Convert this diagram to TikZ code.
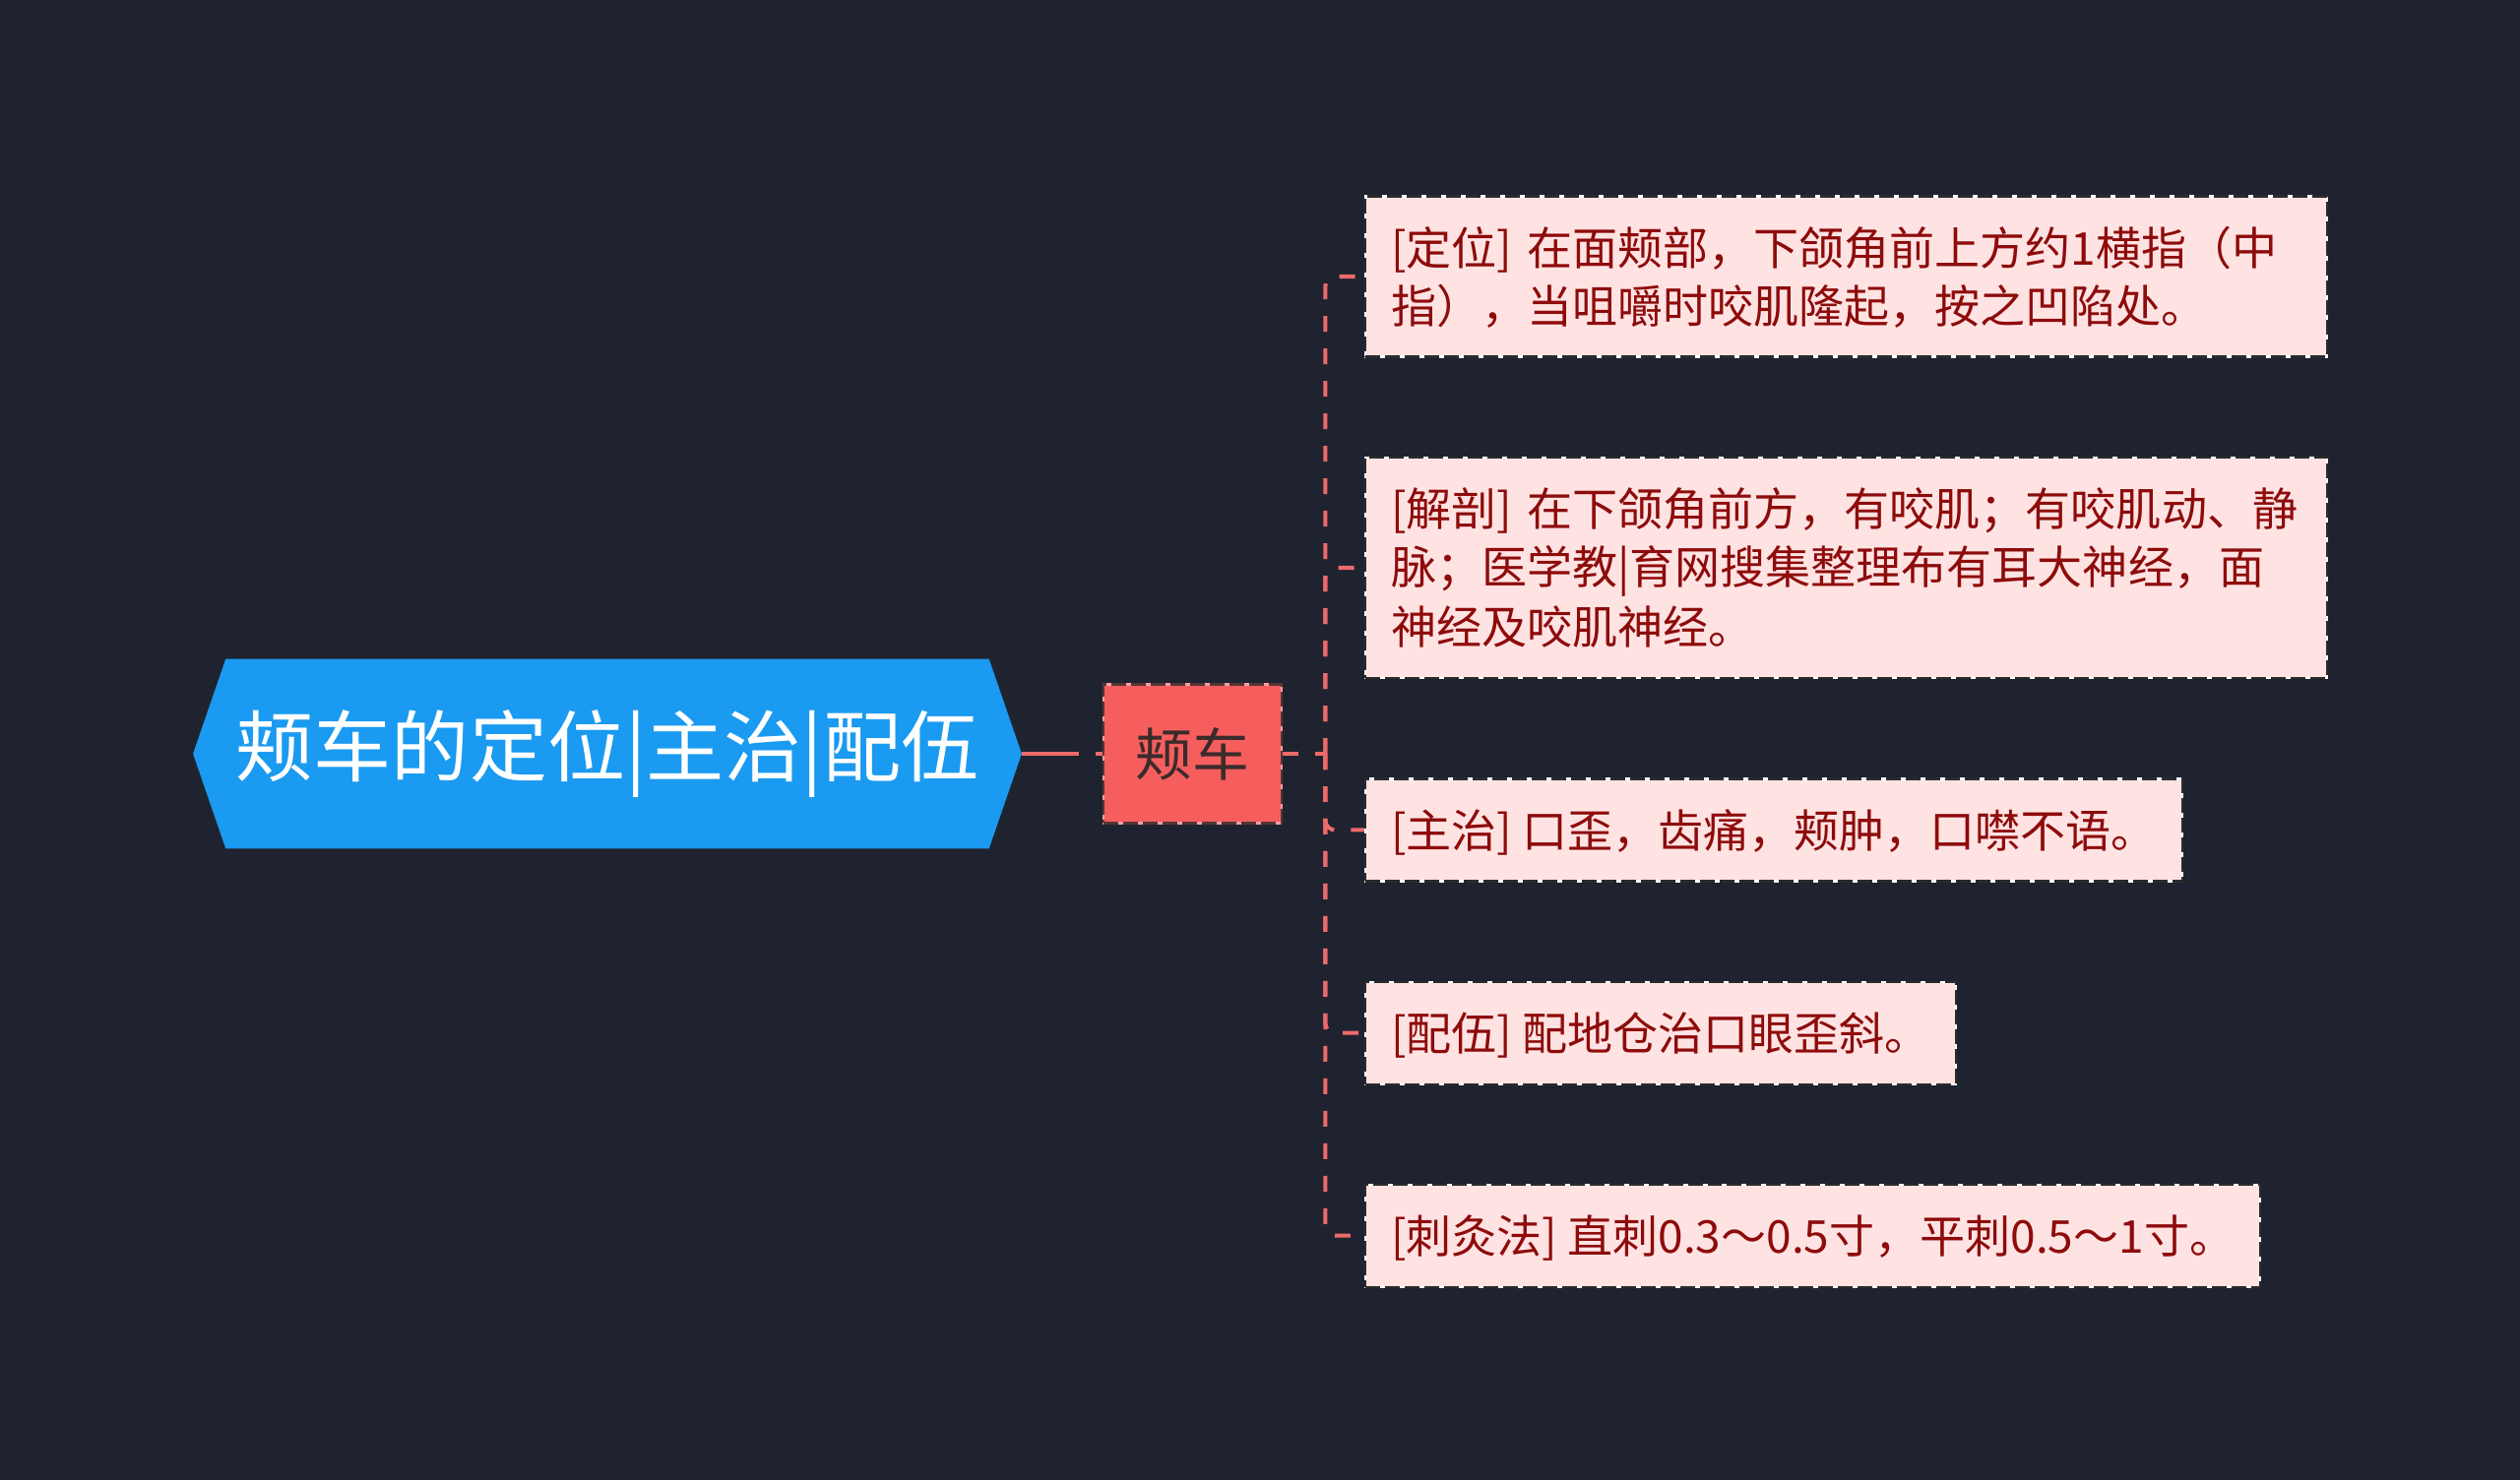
\documentclass[tikz,border=0pt]{standalone}
\usepackage{fontspec}
\setmainfont{Noto Sans CJK SC}
\usetikzlibrary{positioning,shapes.symbols}
\definecolor{cbg}{HTML}{1F2330}
\definecolor{cblue}{HTML}{1A9AF0}
\definecolor{cred}{HTML}{F65E5E}
\definecolor{clink}{HTML}{EE6A6A}
\definecolor{cpink}{HTML}{FFE3E3}
\definecolor{cdarkred}{HTML}{8E0B0B}
\definecolor{cdark}{HTML}{3B2B2B}
\definecolor{cborder}{HTML}{2B2B2B}
\newcommand\leafstrut{\rule[-6.8pt]{0pt}{33.6pt}}

\begin{document}
\begin{tikzpicture}[x=0.02cm, y=-0.02cm,
    rootbox/.style={shape=signal, signal to=west and east, signal pointer angle=142,
                    fill=cblue, text=white, font=\fontsize{45}{54}\selectfont,
                    minimum width=16.84cm, minimum height=3.86cm, inner sep=0pt},
    midbox/.style={fill=cred, draw=cred!60!white, line width=1.2pt,
                   postaction={draw=cborder!80!cred, dash pattern=on 0.3cm off 0.1cm},
                   text=cdark, font=\fontsize{33}{40}\selectfont,
                   minimum width=3.62cm, minimum height=2.82cm, inner sep=0pt},
    leafbox/.style={fill=cpink, draw=white, line width=1.2pt,
                    postaction={draw=cborder, dash pattern=on 0.3cm off 0.1cm},
                    text=cdarkred, font=\fontsize{26.2}{33.6}\selectfont, align=left,
                    execute at begin node=\leafstrut, execute at end node=\leafstrut,
                    inner xsep=0.52cm, inner ysep=0.45cm, anchor=west},
    link/.style={clink, line width=2.3pt, dash pattern=on 0.32cm off 0.34cm},
    rootlink/.style={link, dash pattern=on 1.16cm off 0.34cm},
]

% background and page size
\fill[cbg] (0,0) rectangle (2560,1504);

% Root topic
\node[rootbox] (root) at (617,766) {颊车的定位|主治|配伍};

% Main branch
\node[midbox, right=1.64cm of root] (cheek) {颊车};
\coordinate[right=0.86cm of cheek] (spine);

% Leaves, stacked with equal gaps
\node[leafbox, text width=18.5cm] (locate) at (1386,281)
    {[定位] 在面颊部，下颌角前上方约1横指（中\\指），当咀嚼时咬肌隆起，按之凹陷处。};
\node[leafbox, text width=18.5cm, below=2cm of locate.south west, anchor=north west] (anatomy)
    {[解剖] 在下颌角前方，有咬肌；有咬肌动、静\\脉；医学教|育网搜集整理布有耳大神经，面\\神经及咬肌神经。};
\node[leafbox, below=2cm of anatomy.south west, anchor=north west] (treat)
    {[主治] 口歪，齿痛，颊肿，口噤不语。};
\node[leafbox, below=2cm of treat.south west, anchor=north west] (combine)
    {[配伍] 配地仓治口眼歪斜。};
\node[leafbox, below=2cm of combine.south west, anchor=north west] (needle)
    {[刺灸法] 直刺0.3～0.5寸，平刺0.5～1寸。};

% ── Links ──
\draw[rootlink] (root.east) -- (cheek.west);
\draw[link] (cheek.east) -- (spine);
\foreach \leaf in {locate,anatomy,treat,combine,needle}
    \draw[link, rounded corners=0.2cm] (spine) |- (\leaf.west);

\end{tikzpicture}
\end{document}
